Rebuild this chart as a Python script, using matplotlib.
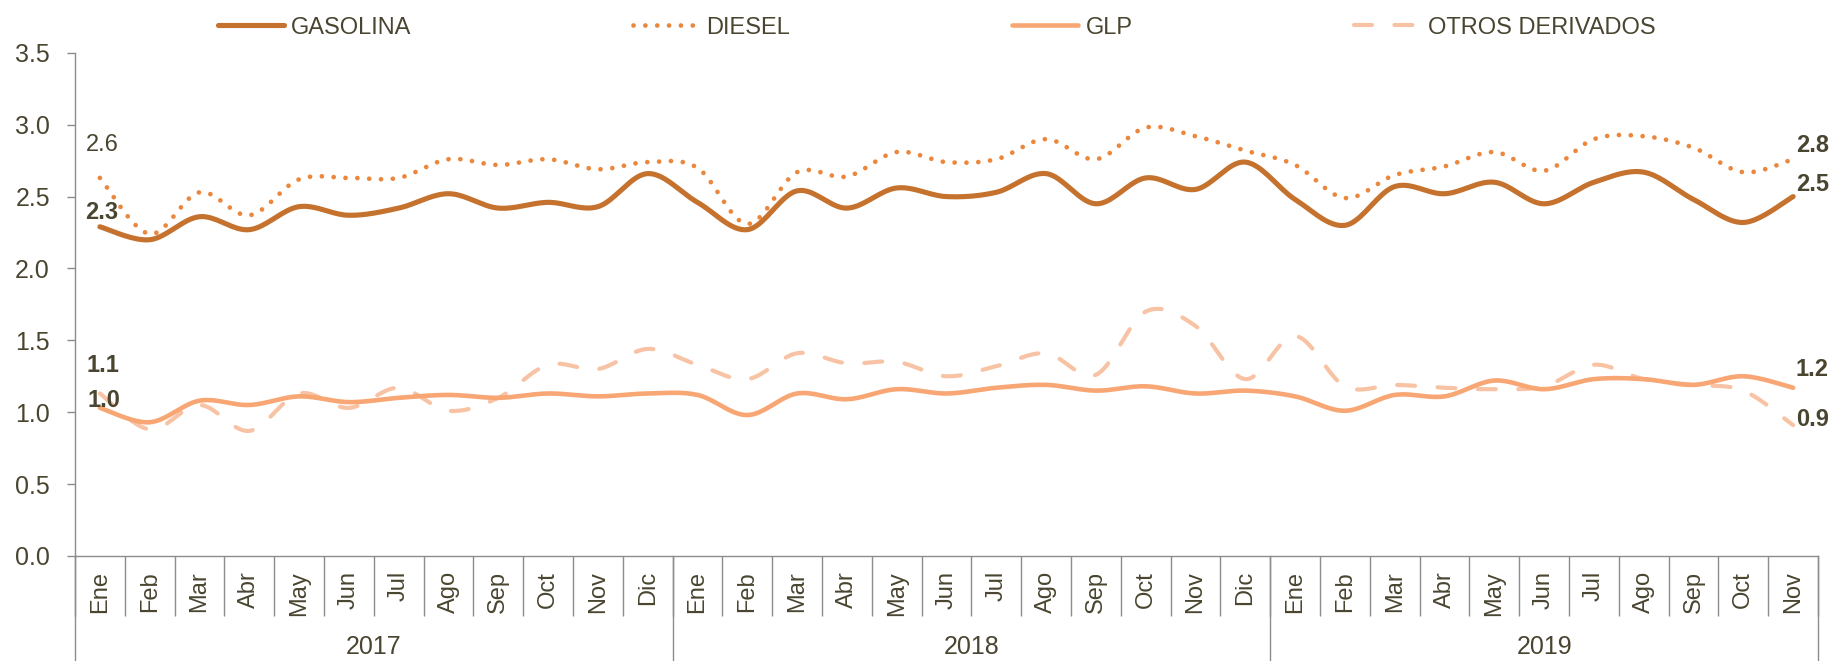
import numpy as np
import matplotlib
matplotlib.use('Agg')
from matplotlib import pyplot as plt
from matplotlib import font_manager
from matplotlib.lines import Line2D
import matplotlib.transforms as mtransforms

# Months and years
months = ['Ene', 'Feb', 'Mar', 'Abr', 'May', 'Jun', 'Jul', 'Ago', 'Sep', 'Oct', 'Nov', 'Dic'] * 2 + \
         ['Ene', 'Feb', 'Mar', 'Abr', 'May', 'Jun', 'Jul', 'Ago', 'Sep', 'Oct', 'Nov']
years = ['2017', '2018', '2019']
year_len = [12, 12, 11]

# Series values
gasolina = [2.29, 2.20, 2.36, 2.27, 2.43, 2.37, 2.42, 2.52, 2.42, 2.46, 2.43, 2.66,
            2.46, 2.27, 2.54, 2.42, 2.56, 2.50, 2.53, 2.66, 2.45, 2.63, 2.55, 2.74,
            2.48, 2.30, 2.57, 2.52, 2.60, 2.45, 2.60, 2.67, 2.48, 2.32, 2.50]
diesel = [2.63, 2.24, 2.53, 2.37, 2.62, 2.63, 2.63, 2.76, 2.72, 2.76, 2.69, 2.74,
          2.70, 2.31, 2.67, 2.64, 2.81, 2.74, 2.76, 2.90, 2.76, 2.98, 2.92, 2.82,
          2.72, 2.49, 2.65, 2.71, 2.81, 2.68, 2.90, 2.92, 2.84, 2.67, 2.76]
glp = [1.03, 0.93, 1.08, 1.05, 1.11, 1.07, 1.10, 1.12, 1.10, 1.13, 1.11, 1.13,
       1.12, 0.98, 1.13, 1.09, 1.16, 1.13, 1.17, 1.19, 1.15, 1.18, 1.13, 1.15,
       1.11, 1.01, 1.12, 1.11, 1.22, 1.16, 1.23, 1.23, 1.19, 1.25, 1.17]
otros = [1.13, 0.88, 1.05, 0.87, 1.13, 1.03, 1.17, 1.01, 1.10, 1.33, 1.30, 1.44,
         1.33, 1.23, 1.41, 1.34, 1.35, 1.25, 1.32, 1.41, 1.26, 1.70, 1.60, 1.23,
         1.53, 1.18, 1.19, 1.17, 1.16, 1.18, 1.33, 1.23, 1.19, 1.15, 0.91]

# Fonts
names = set(f.name for f in font_manager.fontManager.ttflist)
narrow = 'Liberation Sans Narrow' if 'Liberation Sans Narrow' in names else 'Liberation Sans'
txt_col = '#4A4530'
ax_col = '#8C8C8C'


def smooth(y, n=20):
    # Catmull-Rom curve through the points (like Excel smoothed lines)
    y = np.asarray(y, dtype=float)
    x = np.arange(len(y), dtype=float)
    p = np.concatenate([[y[0]], y, [y[-1]]])
    px = np.concatenate([[x[0]], x, [x[-1]]])
    xs, ys = [], []
    t = np.linspace(0, 1, n, endpoint=False)
    for i in range(len(y) - 1):
        y0, y1, y2, y3 = p[i], p[i + 1], p[i + 2], p[i + 3]
        x0, x1, x2, x3 = px[i], px[i + 1], px[i + 2], px[i + 3]
        # Bezier control points
        cy1 = y1 + (y2 - y0) / 6
        cy2 = y2 - (y3 - y1) / 6
        cx1 = x1 + (x2 - x0) / 6
        cx2 = x2 - (x3 - x1) / 6
        b = lambda a, c1, c2, d: ((1 - t) ** 3 * a + 3 * (1 - t) ** 2 * t * c1
                                  + 3 * (1 - t) * t ** 2 * c2 + t ** 3 * d)
        xs.append(b(x1, cx1, cx2, x2))
        ys.append(b(y1, cy1, cy2, y2))
    xs.append([x[-1]])
    ys.append([y[-1]])
    return np.concatenate(xs), np.concatenate(ys)


fig = plt.figure(figsize=(18.29, 6.61), dpi=100)
ax = fig.add_axes([0.041, 0.159, 0.953, 0.761])

c_gas = '#C5722F'
c_die = '#EB873D'
c_glp = '#F7A674'
c_otr = '#F8C3A5'

x, y = smooth(otros)
ax.plot(x, y, color=c_otr, lw=3.0, ls=(0, (4.3, 5.4)), dash_capstyle='round', label='OTROS DERIVADOS')
x, y = smooth(glp)
ax.plot(x, y, color=c_glp, lw=3.3, solid_capstyle='round', label='GLP')
x, y = smooth(diesel)
ax.plot(x, y, color=c_die, lw=3.4, ls=(0, (0.01, 2.5)), dash_capstyle='round', label='DIESEL')
x, y = smooth(gasolina)
ax.plot(x, y, color=c_gas, lw=3.7, solid_capstyle='round', label='GASOLINA')

# Axes formatting
ax.set_xlim(-0.5, len(months) - 0.5)
ax.set_ylim(0, 3.5)
ax.set_yticks(np.arange(0, 3.51, 0.5))
ax.set_yticklabels(['%.1f' % v for v in np.arange(0, 3.51, 0.5)], family=narrow, fontsize=18, color=txt_col)
ax.tick_params(axis='y', length=6, width=1, color=ax_col, pad=12)
ax.set_xticks(np.arange(len(months)))
ax.set_xticklabels(months, rotation=90, family='Liberation Sans', fontsize=17, color=txt_col)
ax.set_xticks(np.arange(-0.5, len(months)), minor=True)
ax.tick_params(axis='x', which='major', length=0, pad=11)
ax.tick_params(axis='x', which='minor', length=43, width=1, color=ax_col)
for s in ['top', 'right']:
    ax.spines[s].set_visible(False)
for s in ['left', 'bottom']:
    ax.spines[s].set_color(ax_col)
    ax.spines[s].set_linewidth(1)

# Year separators and labels
trans = mtransforms.blended_transform_factory(ax.transData, ax.transAxes)
start = -0.5
bounds = [start]
for n in year_len:
    bounds.append(bounds[-1] + n)
for b in bounds:
    ax.add_line(Line2D([b, b], [0, -0.21], transform=trans, color=ax_col, lw=1, clip_on=False))
for i, yr in enumerate(years):
    ax.text((bounds[i] + bounds[i + 1]) / 2, -0.182, yr, transform=trans, ha='center', va='center',
            family=narrow, fontsize=18, color=txt_col)

# Data labels
n = len(months) - 1
ax.annotate('%.1f' % diesel[0], (0, diesel[0]), xytext=(2, 24), textcoords='offset points',
            ha='center', va='center', family=narrow, fontsize=17, color=txt_col)
ax.annotate('%.1f' % gasolina[0], (0, gasolina[0]), xytext=(1, 10), textcoords='offset points',
            ha='center', va='center', family=narrow, fontsize=17, color=txt_col, weight='bold')
ax.annotate('%.1f' % otros[0], (0, otros[0]), xytext=(2, 20), textcoords='offset points',
            ha='center', va='center', family=narrow, fontsize=17, color=txt_col, weight='bold')
ax.annotate('%.1f' % glp[0], (0, glp[0]), xytext=(3, 5), textcoords='offset points',
            ha='center', va='center', family=narrow, fontsize=17, color=txt_col, weight='bold')
ax.annotate('%.1f' % diesel[n], (n, diesel[n]), xytext=(2, 10), textcoords='offset points',
            ha='left', va='center', family=narrow, fontsize=17, color=txt_col, weight='bold')
ax.annotate('%.1f' % gasolina[n], (n, gasolina[n]), xytext=(2, 9), textcoords='offset points',
            ha='left', va='center', family=narrow, fontsize=17, color=txt_col, weight='bold')
ax.annotate('%.1f' % glp[n], (n, glp[n]), xytext=(2, 13), textcoords='offset points',
            ha='left', va='center', family=narrow, fontsize=17, color=txt_col, weight='bold')
ax.annotate('%.1f' % otros[n], (n, otros[n]), xytext=(2, 4), textcoords='offset points',
            ha='left', va='center', family=narrow, fontsize=17, color=txt_col, weight='bold')

# Legend
h, l = ax.get_legend_handles_labels()
order = [3, 2, 1, 0]
leg = fig.legend([h[i] for i in order], [l[i] for i in order], loc='center', ncol=4,
                 bbox_to_anchor=(0.512, 0.958), frameon=False, handlelength=2.8,
                 handletextpad=0.3, columnspacing=9.4,
                 prop={'family': narrow, 'size': 17})
for t in leg.get_texts():
    t.set_color(txt_col)

plt.savefig('out.png', dpi=100)
